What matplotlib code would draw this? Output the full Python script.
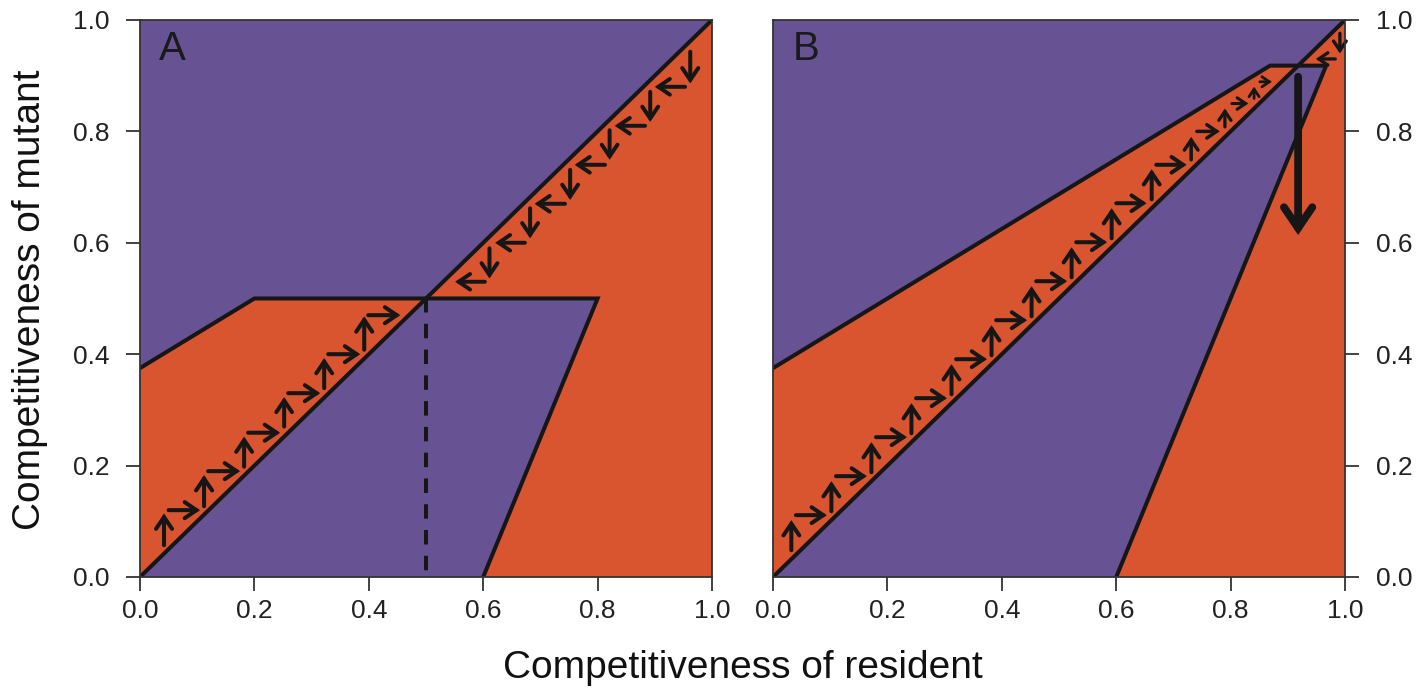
import matplotlib
matplotlib.use("Agg")
import matplotlib.pyplot as plt

plt.rcParams["font.family"] = ["Liberation Sans", "DejaVu Sans"]

PURPLE = "#675393"
ORANGE = "#D85530"
INK = "#161616"
LW = 2.9

TICKS = [0.0, 0.2, 0.4, 0.6, 0.8, 1.0]
TICK_LABELS = ["0.0", "0.2", "0.4", "0.6", "0.8", "1.0"]

# ---- panel A: invasion regions ----
A_left_x = [0.0, 0.5, 0.2, 0.0]
A_left_y = [0.0, 0.5, 0.5, 0.375]
A_right_x = [0.5, 1.0, 1.0, 0.6, 0.8]
A_right_y = [0.5, 1.0, 0.0, 0.0, 0.5]
A_edge_x = [0.0, 0.2, 0.8, 0.6]
A_edge_y = [0.375, 0.5, 0.5, 0.0]
A_singular = 0.5

# upward staircase (mutant gains, then replaces resident)
A_up_x = [0.042, 0.112, 0.182, 0.252, 0.322, 0.392]
A_up_y0 = [0.057, 0.127, 0.198, 0.270, 0.339, 0.408]
A_up_y1 = [0.114, 0.183, 0.252, 0.323, 0.393, 0.468]
A_rt_y = [0.120, 0.190, 0.259, 0.330, 0.400, 0.470]
A_rt_x0 = [0.050, 0.119, 0.189, 0.259, 0.329, 0.399]
A_rt_x1 = [0.105, 0.175, 0.245, 0.315, 0.385, 0.455]

# downward staircase from the top right
A_dn_x = [0.962, 0.892, 0.821, 0.752, 0.682, 0.611]
A_dn_y0 = [0.943, 0.871, 0.802, 0.731, 0.662, 0.590]
A_dn_y1 = [0.886, 0.817, 0.749, 0.677, 0.608, 0.536]
A_lf_y = [0.880, 0.810, 0.740, 0.670, 0.600, 0.530]
A_lf_x0 = [0.953, 0.883, 0.813, 0.743, 0.673, 0.603]
A_lf_x1 = [0.900, 0.830, 0.760, 0.690, 0.621, 0.551]

# ---- panel B ----
B_left_x = [0.0, 0.918, 0.869, 0.0]
B_left_y = [0.0, 0.918, 0.918, 0.375]
B_right_x = [0.918, 1.0, 1.0, 0.6, 0.967]
B_right_y = [0.918, 1.0, 0.0, 0.0, 0.918]
B_edge_x = [0.0, 0.869, 0.967, 0.6]
B_edge_y = [0.375, 0.918, 0.918, 0.0]

B_up_x = [0.032, 0.102, 0.172, 0.242, 0.312, 0.382, 0.452, 0.522, 0.592, 0.662, 0.731, 0.790, 0.841]
B_up_y0 = [0.048, 0.118, 0.188, 0.258, 0.328, 0.398, 0.468, 0.538, 0.608, 0.678, 0.749, 0.808, 0.859]
B_up_y1 = [0.102, 0.172, 0.242, 0.312, 0.382, 0.452, 0.522, 0.592, 0.662, 0.732, 0.790, 0.841, 0.880]
B_rt_y = [0.111, 0.181, 0.251, 0.321, 0.391, 0.461, 0.531, 0.601, 0.671, 0.740, 0.800, 0.850, 0.889]
B_rt_x0 = [0.040, 0.110, 0.180, 0.250, 0.320, 0.390, 0.460, 0.530, 0.600, 0.670, 0.741, 0.802, 0.851]
B_rt_x1 = [0.094, 0.164, 0.234, 0.304, 0.374, 0.444, 0.514, 0.584, 0.653, 0.723, 0.781, 0.831, 0.872]

B_dn_x, B_dn_y0, B_dn_y1 = [0.991], [0.976], [0.940]
B_lf_y, B_lf_x0, B_lf_x1 = [0.930], [0.983], [0.949]

# the big jump down once the resident passes the plateau
B_jump_x, B_jump_y0, B_jump_y1 = 0.918, 0.898, 0.614

FULL_LEN = 0.055


def arrow(ax, x0, y0, x1, y1, lw=LW, ms=17):
    ax.annotate("", xy=(x1, y1), xytext=(x0, y0),
                arrowprops=dict(arrowstyle="->,head_length=0.5,head_width=0.34",
                                lw=lw, color=INK, shrinkA=0, shrinkB=0,
                                mutation_scale=ms, capstyle="round",
                                joinstyle="miter"))


def step_arrow(ax, x0, y0, x1, y1):
    # shorter arrows get thinner shafts and smaller heads
    ln = max(abs(x1 - x0), abs(y1 - y0))
    f = min(1.0, ln / FULL_LEN)
    arrow(ax, x0, y0, x1, y1, lw=LW * (0.5 + 0.5 * f), ms=17 * (0.4 + 0.6 * f))


def staircase(ax, vx, vy0, vy1, hy, hx0, hx1):
    for x, a, b in zip(vx, vy0, vy1):
        step_arrow(ax, x, a, x, b)
    for y, a, b in zip(hy, hx0, hx1):
        step_arrow(ax, a, y, b, y)


def base(ax, letter):
    ax.set_facecolor(PURPLE)
    ax.set_xlim(0, 1)
    ax.set_ylim(0, 1)
    ax.set_xticks(TICKS)
    ax.set_xticklabels(TICK_LABELS)
    ax.set_yticks(TICKS)
    ax.set_yticklabels(TICK_LABELS)
    ax.tick_params(length=10, width=1.3, color="#333333", labelsize=19,
                   labelcolor="#222222")
    ax.tick_params(axis="x", pad=6)
    ax.tick_params(axis="y", pad=12)
    for s in ax.spines.values():
        s.set_linewidth(1.3)
        s.set_color("#333333")
        s.set_zorder(5)
    ax.text(0.057, 0.948, letter, fontsize=29, color="#1a1a1a",
            ha="center", va="center")
    ax.plot([0, 1], [0, 1], color=INK, lw=LW, solid_capstyle="butt", zorder=3)


fig = plt.figure(figsize=(14.2, 6.93), dpi=100)
axA = fig.add_axes([0.0986, 0.1674, 0.4028, 0.8038])
axB = fig.add_axes([0.5444, 0.1674, 0.4028, 0.8038])

# panel A
axA.fill(A_left_x, A_left_y, color=ORANGE, lw=0)
axA.fill(A_right_x, A_right_y, color=ORANGE, lw=0)
base(axA, "A")
axA.plot(A_edge_x, A_edge_y, color=INK, lw=LW, solid_joinstyle="miter", zorder=3)
axA.plot([A_singular, A_singular], [A_singular, 0], color=INK, lw=LW,
         linestyle=(0, (3.6, 2.8)), zorder=3)
staircase(axA, A_up_x, A_up_y0, A_up_y1, A_rt_y, A_rt_x0, A_rt_x1)
staircase(axA, A_dn_x, A_dn_y0, A_dn_y1, A_lf_y, A_lf_x0, A_lf_x1)
axA.yaxis.tick_left()

# panel B
axB.fill(B_left_x, B_left_y, color=ORANGE, lw=0)
axB.fill(B_right_x, B_right_y, color=ORANGE, lw=0)
base(axB, "B")
axB.plot(B_edge_x, B_edge_y, color=INK, lw=LW, solid_joinstyle="miter", zorder=3)
staircase(axB, B_up_x, B_up_y0, B_up_y1, B_rt_y, B_rt_x0, B_rt_x1)
staircase(axB, B_dn_x, B_dn_y0, B_dn_y1, B_lf_y, B_lf_x0, B_lf_x1)
arrow(axB, B_jump_x, B_jump_y0, B_jump_x, B_jump_y1, lw=5.6, ms=30)
axB.yaxis.tick_right()
axB.tick_params(axis="y", pad=12)

fig.text(0.523, 0.036, "Competitiveness of resident", fontsize=28,
         ha="center", va="center", color="#111111")
fig.text(0.021, 0.567, "Competitiveness of mutant", fontsize=28, rotation=90,
         ha="center", va="center", color="#111111")

fig.savefig("out.png", dpi=100, facecolor="white")
